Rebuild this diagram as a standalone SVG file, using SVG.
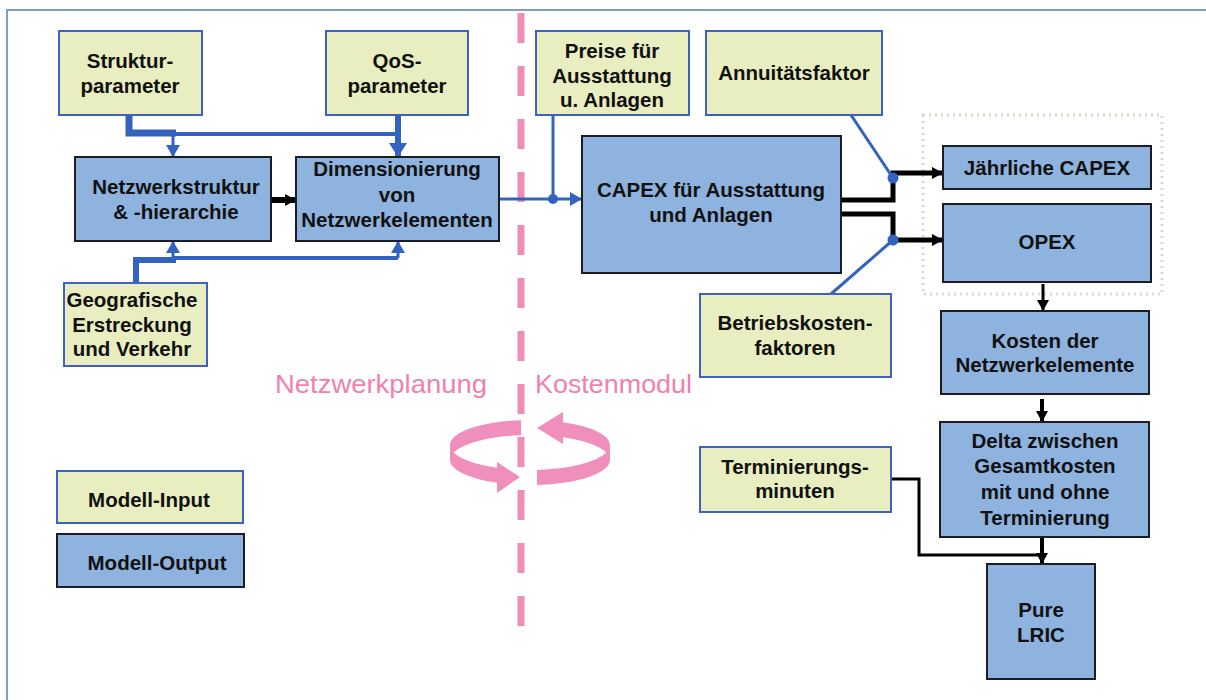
<svg xmlns="http://www.w3.org/2000/svg" width="1206" height="700" viewBox="0 0 1206 700">
<style>
.inp{fill:#e8eebf;stroke:#3d62c4;stroke-width:2}
.out{fill:#8db3de;stroke:#1c1c24;stroke-width:2}
.t{font-family:"Liberation Sans",Arial,sans-serif;font-weight:bold;font-size:20.5px;fill:#111;text-anchor:middle}
.pk{font-family:"Liberation Sans",Arial,sans-serif;font-size:25px;fill:#f07fb2}
.bl{fill:none;stroke:#3263c0}
.bk{fill:none;stroke:#000}
</style>
<defs>
<marker id="ab" markerUnits="userSpaceOnUse" markerWidth="14" markerHeight="14" refX="12" refY="7" orient="auto"><path d="M0,0 L12,7 L0,14 Z" fill="#3263c0"/></marker>
<marker id="abw" markerUnits="userSpaceOnUse" markerWidth="16" markerHeight="18" refX="14" refY="9" orient="auto"><path d="M0,0 L14,9 L0,18 Z" fill="#3263c0"/></marker>
<marker id="ak" markerUnits="userSpaceOnUse" markerWidth="12" markerHeight="14" refX="11" refY="7" orient="auto"><path d="M0,1 L11,7 L0,13 Z" fill="#000"/></marker>
</defs>
<rect x="0" y="0" width="1206" height="700" fill="#fff"/>
<rect x="7" y="10" width="1215" height="710" fill="none" stroke="#7fa0c2" stroke-width="2"/>
<rect x="923" y="115" width="239" height="179" fill="none" stroke="#d9d9cc" stroke-width="3" stroke-dasharray="2 4"/>
<line x1="521" y1="13" x2="521" y2="630" stroke="#f08cb8" stroke-width="7" stroke-dasharray="30 23"/>
<g id="cycle" fill="#f08fbc">
<path d="M521,420.2 A80,25 0 0 0 450,445 L450,460 A80,25 0 0 0 497,482.8 L497,493 L520,477 L497,462 L497,467.8 A80,25 0 0 1 453.7,452.5 A80,25 0 0 1 521,435.2 Z"/>
<path d="M537,484.9 A80,25 0 0 0 610,460 L610,445 A80,25 0 0 0 563,422.2 L563,412 L537,428 L563,444 L563,437.2 A80,25 0 0 1 606.3,452.5 A80,25 0 0 1 537,469.9 Z"/>
</g>
<text class="pk" x="275" y="393" textLength="212" lengthAdjust="spacingAndGlyphs">Netzwerkplanung</text>
<text class="pk" x="535" y="393" textLength="157" lengthAdjust="spacingAndGlyphs">Kostenmodul</text>
<g id="connectors">
<path class="bl" d="M129,115 V133 H176" style="stroke-width:7"/>
<path class="bl" d="M173,134 H398" style="stroke-width:4"/>
<path class="bl" d="M173,134 V157" style="stroke-width:3" marker-end="url(#ab)"/>
<path class="bl" d="M398,115 V157" style="stroke-width:6" marker-end="url(#abw)"/>
<path class="bl" d="M136,283 V260 H176" style="stroke-width:6"/>
<path class="bl" d="M173,258 H398" style="stroke-width:4"/>
<path class="bl" d="M173,258 V241" style="stroke-width:3" marker-end="url(#ab)"/>
<path class="bl" d="M398,258 V241" style="stroke-width:3" marker-end="url(#ab)"/>
<path class="bk" d="M271,200 H296" style="stroke-width:6" marker-end="url(#ak)"/>
<path class="bl" d="M499,199 H582" style="stroke-width:3" marker-end="url(#ab)"/>
<path class="bl" d="M553,115 V199" style="stroke-width:3"/>
<circle cx="553" cy="199" r="5" fill="#3263c0"/>
<path class="bk" d="M841,200 H893 V173 H943" style="stroke-width:5" marker-end="url(#ak)"/>
<path class="bk" d="M841,214 H893 V240 H943" style="stroke-width:5" marker-end="url(#ak)"/>
<path class="bl" d="M851,115 L893,178" style="stroke-width:3"/>
<path class="bl" d="M831,294 L893,240" style="stroke-width:3"/>
<circle cx="893" cy="178" r="5.5" fill="#3263c0"/>
<circle cx="893" cy="240" r="5.5" fill="#3263c0"/>
<path class="bk" d="M1043,284 V311" style="stroke-width:3" marker-end="url(#ak)"/>
<path class="bk" d="M1042,399 V422" style="stroke-width:4" marker-end="url(#ak)"/>
<path class="bk" d="M1042,538 V564" style="stroke-width:4" marker-end="url(#ak)"/>
<path class="bk" d="M891,479 H919 V555 H1042" style="stroke-width:3"/>
</g>
<g id="struktur"><rect class="inp" x="59" y="31" width="143" height="84"/><text class="t" x="130" y="68">Struktur-</text><text class="t" x="130" y="93">parameter</text></g>
<g id="qos"><rect class="inp" x="326" y="31" width="142" height="84"/><text class="t" x="397" y="68">QoS-</text><text class="t" x="397" y="93">parameter</text></g>
<g id="netzstruktur"><rect class="out" x="75" y="157" width="196" height="84"/><text class="t" x="176" y="194">Netzwerkstruktur</text><text class="t" x="176" y="219">&amp; -hierarchie</text></g>
<g id="dimension"><rect class="out" x="296" y="157" width="203" height="84"/><text class="t" x="397" y="176">Dimensionierung</text><text class="t" x="397" y="202">von</text><text class="t" x="397" y="227">Netzwerkelementen</text></g>
<g id="geo"><rect class="inp" x="64" y="283" width="143" height="83"/><text class="t" x="132" y="307">Geografische</text><text class="t" x="132" y="332">Erstreckung</text><text class="t" x="132" y="356">und Verkehr</text></g>
<g id="preise"><rect class="inp" x="536" y="31" width="153" height="84"/><text class="t" x="612" y="58">Preise für</text><text class="t" x="612" y="83">Ausstattung</text><text class="t" x="612" y="107">u. Anlagen</text></g>
<g id="annuitaet"><rect class="inp" x="706" y="31" width="176" height="84"/><text class="t" x="794" y="80">Annuitätsfaktor</text></g>
<g id="capex"><rect class="out" x="582" y="136" width="259" height="137"/><text class="t" x="711" y="197">CAPEX für Ausstattung</text><text class="t" x="711" y="222">und Anlagen</text></g>
<g id="jcapex"><rect class="out" x="943" y="146" width="208" height="43"/><text class="t" x="1047" y="175">Jährliche CAPEX</text></g>
<g id="opex"><rect class="out" x="943" y="204" width="208" height="78"/><text class="t" x="1047" y="249">OPEX</text></g>
<g id="betrieb"><rect class="inp" x="700" y="294" width="191" height="83"/><text class="t" x="795" y="330">Betriebskosten-</text><text class="t" x="795" y="355">faktoren</text></g>
<g id="kosten"><rect class="out" x="941" y="311" width="208" height="83"/><text class="t" x="1045" y="348">Kosten der</text><text class="t" x="1045" y="372">Netzwerkelemente</text></g>
<g id="delta"><rect class="out" x="940" y="422" width="209" height="115"/><text class="t" x="1045" y="448">Delta zwischen</text><text class="t" x="1045" y="473">Gesamtkosten</text><text class="t" x="1045" y="499">mit und ohne</text><text class="t" x="1045" y="525">Terminierung</text></g>
<g id="termin"><rect class="inp" x="700" y="447" width="191" height="65"/><text class="t" x="795" y="474">Terminierungs-</text><text class="t" x="795" y="498">minuten</text></g>
<g id="lric"><rect class="out" x="987" y="564" width="108" height="115"/><text class="t" x="1041" y="617">Pure</text><text class="t" x="1041" y="642">LRIC</text></g>
<g id="legend-input"><rect class="inp" x="57" y="471" width="186" height="52"/><text class="t" x="149" y="507">Modell-Input</text></g>
<g id="legend-output"><rect class="out" x="57" y="534" width="187" height="53"/><text class="t" x="157" y="570">Modell-Output</text></g>
</svg>
